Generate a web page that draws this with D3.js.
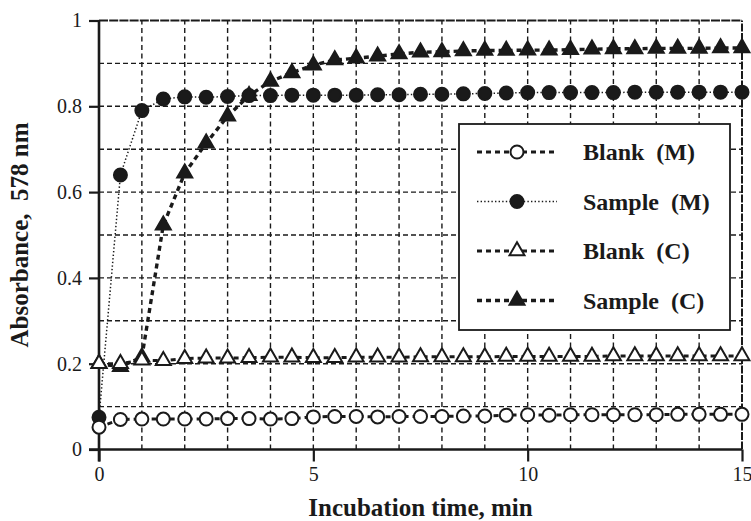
<!DOCTYPE html>
<html><head><meta charset="utf-8">
<script src="https://cdn.jsdelivr.net/npm/d3@7/dist/d3.min.js"></script>
<style>
body{margin:0;background:#fff}
svg{display:block}
text{font-family:"Liberation Serif","Times New Roman",serif;fill:#1a1a1a}
</style>
</head><body>
<svg id="chart" width="751" height="521"></svg>
<script>
// ---- data ----
const times = [0,0.5,1,1.5,2,2.5,3,3.5,4,4.5,5,5.5,6,6.5,7,7.5,8,8.5,9,9.5,10,10.5,11,11.5,12,12.5,13,13.5,14,14.5,15];
const blankM  = [0.052,0.070,0.071,0.071,0.071,0.071,0.072,0.072,0.071,0.072,0.076,0.077,0.077,0.076,0.077,0.077,0.077,0.078,0.078,0.080,0.081,0.080,0.081,0.081,0.081,0.081,0.081,0.082,0.082,0.082,0.082];
const sampleM = [0.075,0.640,0.790,0.817,0.822,0.821,0.823,0.825,0.825,0.826,0.826,0.826,0.826,0.827,0.827,0.828,0.828,0.829,0.830,0.831,0.832,0.832,0.832,0.832,0.832,0.833,0.833,0.833,0.833,0.833,0.833];
const blankC  = [0.200,0.200,0.208,0.207,0.212,0.213,0.213,0.214,0.215,0.215,0.214,0.214,0.215,0.215,0.215,0.216,0.216,0.216,0.216,0.217,0.217,0.217,0.217,0.217,0.218,0.218,0.218,0.218,0.218,0.218,0.218];
const sampleC = [0.200,0.193,0.215,0.523,0.644,0.714,0.777,0.825,0.858,0.878,0.896,0.908,0.912,0.917,0.922,0.926,0.927,0.929,0.930,0.930,0.931,0.931,0.932,0.933,0.934,0.934,0.935,0.935,0.935,0.936,0.936];
const seriesNames = ["Blank  (M)","Sample  (M)","Blank  (C)","Sample  (C)"];
const xTicks = [0,5,10,15];
const xTickLabels = ["0","5","10","15"];
const yTicks = [0,0.2,0.4,0.6,0.8,1];
const yTickLabels = ["0","0.2","0.4","0.6","0.8","1"];
const xGrid = [1,2,3,4,5,6,7,8,9,10,11,12,13,14,15];
const yGrid = [0.1,0.2,0.3,0.4,0.5,0.6,0.7,0.8,0.9,1.0];
const xTitle = "Incubation time, min";
const yTitle = "Absorbance,  578 nm";

// ---- layout ----
const svg = d3.select("#chart");
const x = d3.scaleLinear().domain([0,15]).range([99,742]);
const y = d3.scaleLinear().domain([0,1]).range([449.5,20.5]);
const ink = "#1a1a1a";

// grid
svg.append("g").selectAll("line").data(xGrid).join("line")
  .attr("x1",d=>x(d)).attr("x2",d=>x(d)).attr("y1",y(0)).attr("y2",y(1))
  .attr("stroke",ink).attr("stroke-width",d=>d===15?2:1.4)
  .attr("stroke-dasharray",d=>d===15?"8,1.5":"5,3.5");
svg.append("g").selectAll("line").data(yGrid).join("line")
  .attr("x1",x(0)).attr("x2",x(15)).attr("y1",d=>y(d)).attr("y2",d=>y(d))
  .attr("stroke",ink).attr("stroke-width",d=>d===1?2.2:1.4)
  .attr("stroke-dasharray",d=>d===1?"9,1.2":"5,3");

// axes
const xAxis = d3.axisBottom(x).tickValues(xTicks).tickFormat((d,i)=>xTickLabels[i]).tickSizeInner(12).tickSizeOuter(0).tickPadding(6);
const yAxis = d3.axisLeft(y).tickValues(yTicks).tickFormat((d,i)=>yTickLabels[i]).tickSizeInner(10).tickSizeOuter(0).tickPadding(7);
const gx = svg.append("g").attr("transform",`translate(0,${y(0)})`).call(xAxis);
const gy = svg.append("g").attr("transform",`translate(${x(0)},0)`).call(yAxis);
[gx,gy].forEach(g=>{
  g.select(".domain").attr("stroke",ink).attr("stroke-width",2.6);
  g.selectAll(".tick line").attr("stroke",ink).attr("stroke-width",2.2);
  g.selectAll(".tick text").attr("font-family","'Liberation Serif',serif").attr("font-size",20).attr("fill",ink);
});
gx.select(".domain").attr("d",`M${x(0)-10},0H${x(15)}`);
gy.select(".domain").attr("d",`M0,${y(1)}V${y(0)+12}`);
gx.selectAll(".tick text").attr("dy","0.71em").attr("y",17);

// axis titles
svg.append("text").attr("x",(x(0)+x(15))/2).attr("y",516).attr("text-anchor","middle")
  .attr("font-weight","bold").attr("font-size",25).text(xTitle);
svg.append("text").attr("transform",`translate(28,${(y(0)+y(1))/2}) rotate(-90)`).attr("text-anchor","middle")
  .style("white-space","pre").attr("font-weight","bold").attr("font-size",25).text(yTitle);

// marker helpers
function triPath(w,h){return `M0,${-h*2/3}L${w/2},${h/3}L${-w/2},${h/3}Z`;}
const styles = [
  {name:seriesNames[0], vals:blankM,  dash:"5,4",  lw:3,   shape:"circle",   fill:"#fff"},
  {name:seriesNames[1], vals:sampleM, dash:"1.4,2.2",lw:1.5, shape:"circle",  fill:ink},
  {name:seriesNames[2], vals:blankC,  dash:"5,4",  lw:3,   shape:"triangle", fill:"#fff"},
  {name:seriesNames[3], vals:sampleC, dash:"5,4",  lw:3.4, shape:"triangle", fill:ink}
];
const drawOrder = [1,0,3,2];

function marker(g,s,cx,cy){
  if(s.shape==="circle"){
    g.append("circle").attr("cx",cx).attr("cy",cy).attr("r",6.5)
      .attr("fill",s.fill).attr("stroke",ink).attr("stroke-width",2);
  } else {
    g.append("path").attr("d",triPath(15,13)).attr("transform",`translate(${cx},${cy})`)
      .attr("fill",s.fill).attr("stroke",ink).attr("stroke-width",2).attr("stroke-linejoin","miter");
  }
}

const line = d3.line().x((d,i)=>x(times[i])).y(d=>y(d));
drawOrder.forEach(k=>{
  const s = styles[k];
  const g = svg.append("g");
  g.append("path").attr("d",line(s.vals)).attr("fill","none").attr("stroke",ink)
    .attr("stroke-width",s.lw).attr("stroke-dasharray",s.dash);
  s.vals.forEach((v,i)=>marker(g,s,x(times[i]),y(v)));
});

// legend
const lg = svg.append("g");
lg.append("rect").attr("x",459).attr("y",124).attr("width",271).attr("height",206)
  .attr("fill","#fff").attr("stroke",ink).attr("stroke-width",1.8);
styles.forEach((s,i)=>{
  const cy = 152 + i*49.5;
  lg.append("line").attr("x1",477).attr("x2",557).attr("y1",cy).attr("y2",cy)
    .attr("stroke",ink).attr("stroke-width",s.lw).attr("stroke-dasharray",s.dash);
  marker(lg,s,517,cy);
  lg.append("text").attr("x",583).attr("y",cy+8).style("white-space","pre")
    .attr("font-weight","bold").attr("font-size",24).text(s.name);
});
</script>
</body></html>
